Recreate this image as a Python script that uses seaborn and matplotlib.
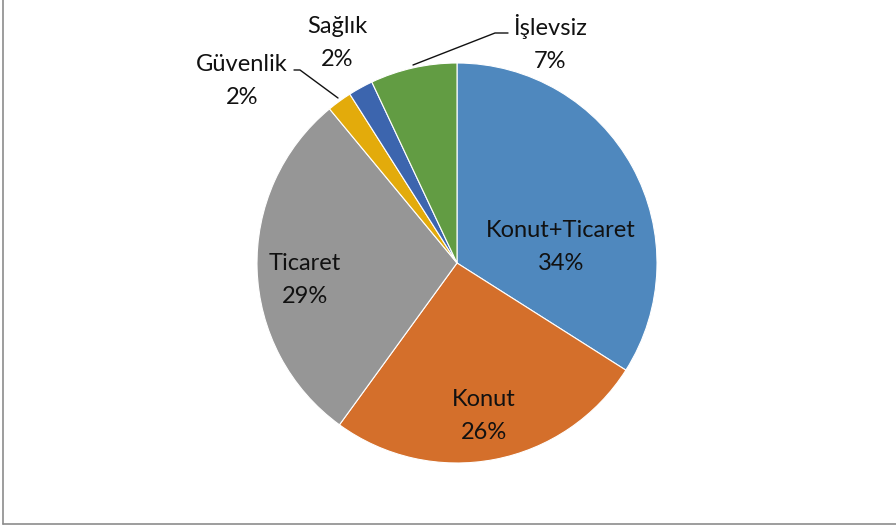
import matplotlib
matplotlib.use("Agg")
import matplotlib.pyplot as plt
import seaborn as sns

# Land-use shares of the surveyed buildings
categories = ["Konut+Ticaret", "Konut", "Ticaret", "Güvenlik", "Sağlık", "İşlevsiz"]
shares = [34, 26, 29, 2, 2, 7]
colors = ["#4f88be", "#d46f2b", "#969696", "#e3ab0b", "#3c65ae", "#629c43"]

# Label anchor points (data units, pie radius = 1)
label_pos = {
    "Konut+Ticaret": (0.52, 0.08),
    "Konut": (0.135, -0.765),
    "Ticaret": (-0.76, -0.085),
    "Güvenlik": (-1.075, 0.91),
    "Sağlık": (-0.60, 1.10),
    "İşlevsiz": (0.465, 1.10),
}
# Leader lines for the small outside labels
leaders = {
    "Güvenlik": [(-0.815, 0.965), (-0.785, 0.965), (-0.595, 0.825)],
    "İşlevsiz": [(0.255, 1.15), (0.19, 1.15), (-0.22, 0.99)],
}

sns.set_theme(style="white")
plt.rcParams["font.family"] = ["Lato", "DejaVu Sans"]

fig = plt.figure(figsize=(8.96, 5.26), dpi=100)
ax = fig.add_axes([0, 0, 1, 1])

wedges, _ = ax.pie(
    shares,
    colors=colors,
    startangle=90,
    counterclock=False,
    radius=1.0,
    center=(0, 0),
    wedgeprops=dict(edgecolor="white", linewidth=0.8),
)

for name, val in zip(categories, shares):
    x, y = label_pos[name]
    ax.text(x, y, f"{name}\n{val}%", ha="center", va="center",
            fontsize=17, color="#111111", linespacing=1.65)

for pts in leaders.values():
    xs, ys = zip(*pts)
    ax.plot(xs, ys, color="#111111", linewidth=1.0)

ax.set_xlim(-457 / 200, (896 - 457) / 200)
ax.set_ylim((263 - 526) / 200, 263 / 200)
ax.set_aspect("equal")
ax.axis("off")

# Chart frame (left and bottom edges visible)
fig.add_artist(plt.Line2D([0.0035, 0.0035], [0.004, 1.0], transform=fig.transFigure,
                          color="#8c8c8c", linewidth=1.2))
fig.add_artist(plt.Line2D([0.0035, 1.0], [0.004, 0.004], transform=fig.transFigure,
                          color="#8c8c8c", linewidth=1.2))

fig.savefig("out.png", dpi=100, facecolor="white")
